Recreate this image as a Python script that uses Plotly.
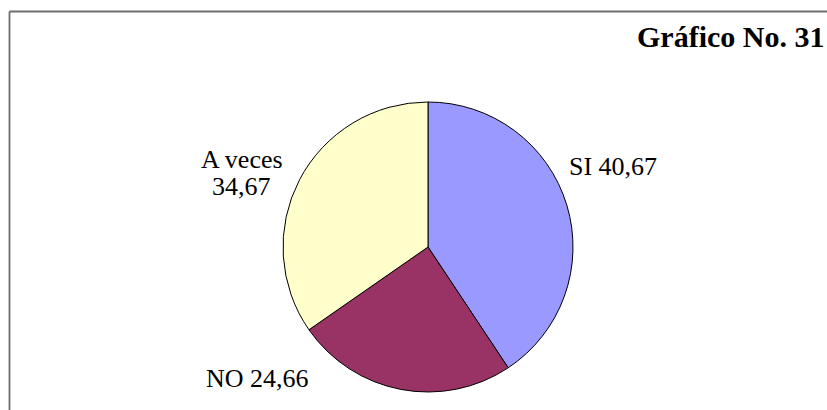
import plotly.graph_objects as go

categories = ["SI", "NO", "A veces"]
values = [40.67, 24.66, 34.67]
colors = ["#9999FF", "#993366", "#FFFFCC"]
value_labels = ["40,67", "24,66", "34,67"]
title_text = "Gráfico No. 31"

W, H = 827, 410
font_family = "Liberation Serif, Times New Roman, serif"

fig = go.Figure(go.Pie(
    labels=categories,
    values=values,
    marker=dict(colors=colors, line=dict(color="black", width=1)),
    sort=False,
    direction="clockwise",
    rotation=0,
    textinfo="none",
    hoverinfo="label+value",
    domain=dict(x=[283 / W, 573 / W], y=[(H - 392) / H, (H - 102) / H]),
    showlegend=False,
))

def px(x):
    return x / W

def py(y):
    return 1 - y / H

annotations = [
    dict(x=px(567), y=py(166), xanchor="left", yanchor="middle",
         text=f"{categories[0]} {value_labels[0]}"),
    dict(x=px(257), y=py(378), xanchor="center", yanchor="middle",
         text=f"{categories[1]} {value_labels[1]}"),
    dict(x=px(242), y=py(159), xanchor="center", yanchor="middle",
         text=categories[2]),
    dict(x=px(242), y=py(187), xanchor="center", yanchor="middle",
         text=value_labels[2]),
    dict(x=px(826), y=py(37), xanchor="right", yanchor="middle",
         text=f"<b>{title_text}</b>", font=dict(size=30, family=font_family, color="black")),
]
for a in annotations:
    a.setdefault("font", dict(size=26, family=font_family, color="black"))
    a.update(xref="paper", yref="paper", showarrow=False)

fig.update_layout(
    width=W, height=H,
    margin=dict(l=0, r=0, t=0, b=0),
    paper_bgcolor="white",
    plot_bgcolor="white",
    annotations=annotations,
    shapes=[
        dict(type="line", xref="paper", yref="paper", x0=px(9.5), x1=1, y0=py(11.5), y1=py(11.5),
             line=dict(color="#6e6e6e", width=1.8)),
        dict(type="line", xref="paper", yref="paper", x0=px(9.5), x1=px(9.5), y0=py(11.5), y1=0,
             line=dict(color="#6e6e6e", width=1.8)),
    ],
)

fig.write_html(
    "out.html",
    config={"displayModeBar": False},
    post_script="document.body.style.margin='0';document.body.style.overflow='hidden';",
)
